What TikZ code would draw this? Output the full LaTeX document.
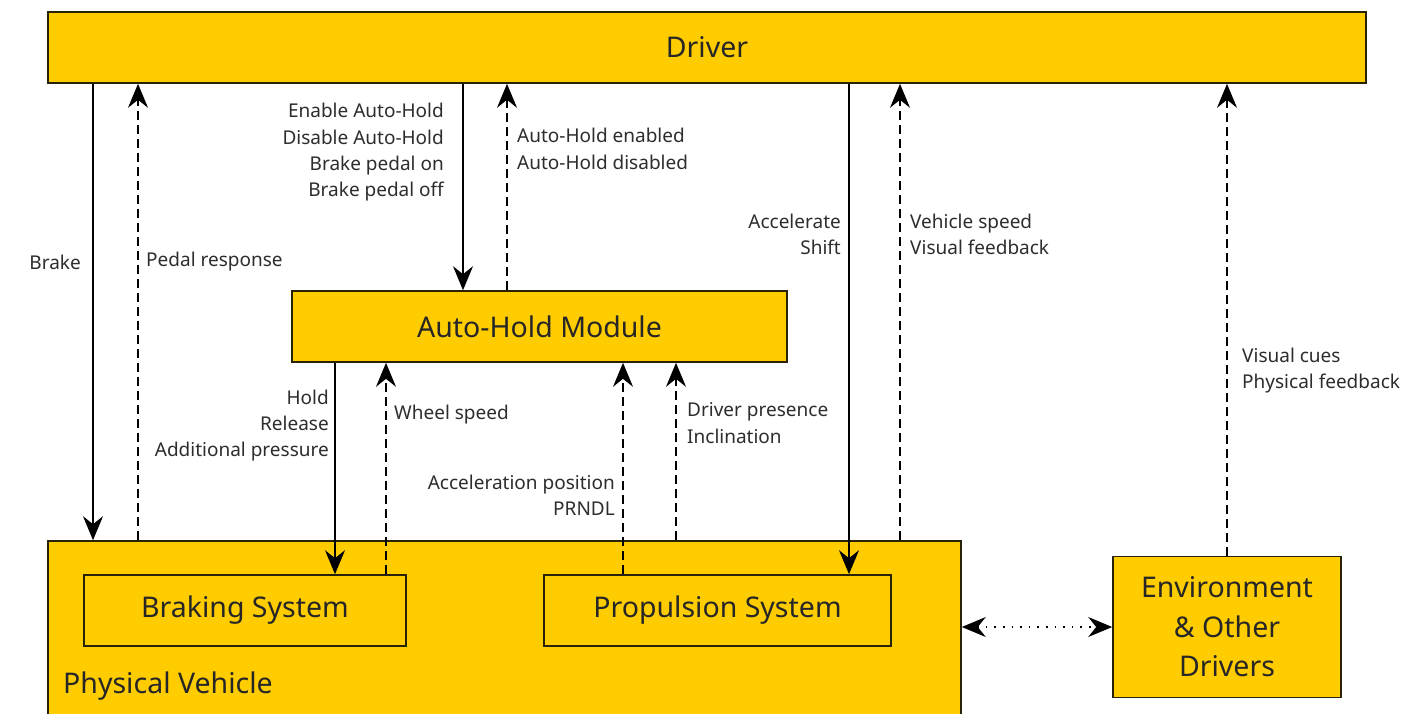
\documentclass[tikz,border=0pt]{standalone}
\usepackage{fontspec}
\setmainfont{Noto Sans}
\usetikzlibrary{arrows.meta}
\definecolor{boxfill}{RGB}{255,204,0}
\definecolor{boxline}{RGB}{40,34,10}
\definecolor{labtext}{RGB}{45,45,45}
\begin{document}
\begin{tikzpicture}[x=1pt,y=-1pt,
  box/.style={draw=boxline,line width=1.6pt,fill=boxfill,rectangle,inner sep=0pt,
    font=\fontsize{28.5}{36}\selectfont,text=black!85},
  lab/.style={inner sep=0pt,font=\fontsize{19}{26.3}\selectfont,text=labtext},
  tip/.style={-{Stealth[length=24pt,width=20pt,inset=8pt]}},
  sa/.style={tip,line width=1.6pt,draw=black},
  da/.style={tip,line width=1.6pt,draw=black,dash pattern=on 9pt off 5pt},
  dd/.style={{Stealth[length=24pt,width=20pt,inset=8pt]}-{Stealth[length=24pt,width=20pt,inset=8pt]},line width=1.6pt,dash pattern=on 1.6pt off 7pt}
]
\useasboundingbox (0,0) rectangle (1403,713);
\fill[white] (0,0) rectangle (1403,713);
\clip (0,0) rectangle (1403,713);

% boxes
\node[box,minimum width=1318pt,minimum height=71pt] (driver) at (707,47.5) {Driver};
\node[box,minimum width=913pt,minimum height=180pt] (pv) at (504.5,631) {};
\node[inner sep=0pt,anchor=west,font=\fontsize{28.5}{36}\selectfont,text=black!85] (pvlab) at (63,686) {Physical Vehicle};
\node[box,minimum width=322pt,minimum height=71pt] (brk) at (245,610.5) {Braking System};
\node[box,minimum width=347pt,minimum height=71pt] (prop) at (717.5,610.5) {Propulsion System};
\node[box,minimum width=495pt,minimum height=71pt] (ahm) at (539.5,326.5) {Auto-Hold Module};
\node[box,minimum width=228pt,minimum height=141pt,align=center,font=\fontsize{28.5}{39.5}\selectfont] (env) at (1227,627) {Environment\\\& Other\\Drivers};

% x positions of connectors
\coordinate (xBrake) at (93,0);
\coordinate (xPedal) at (138,0);
\coordinate (xEnable) at (463,0);
\coordinate (xEnabled) at (507,0);
\coordinate (xAccel) at (849,0);
\coordinate (xVspeed) at (900,0);
\coordinate (xVcues) at (1227,0);
\coordinate (xHold) at (335,0);
\coordinate (xWheel) at (386,0);
\coordinate (xAccPos) at (623,0);
\coordinate (xPres) at (676,0);

% connectors
\draw[sa] (driver.south -| xBrake) -- (pv.north -| xBrake);
\draw[da] (pv.north -| xPedal) -- (driver.south -| xPedal);
\draw[sa] (driver.south -| xEnable) -- (ahm.north -| xEnable);
\draw[da] (ahm.north -| xEnabled) -- (driver.south -| xEnabled);
\draw[sa] (driver.south -| xAccel) -- (prop.north -| xAccel);
\draw[da] (pv.north -| xVspeed) -- (driver.south -| xVspeed);
\draw[da] (env.north -| xVcues) -- (driver.south -| xVcues);
\draw[sa] (ahm.south -| xHold) -- (brk.north -| xHold);
\draw[da] (brk.north -| xWheel) -- (ahm.south -| xWheel);
\draw[da] (prop.north -| xAccPos) -- (ahm.south -| xAccPos);
\draw[da] (pv.north -| xPres) -- (ahm.south -| xPres);
\draw[dd] (pv.east |- env.west) -- (env.west);

% labels
\node[lab,anchor=east,align=right] (lBrake) at (81,262) {Brake};
\node[lab,anchor=west,align=left] (lPedal) at (146,262) {Pedal response};
\node[lab,anchor=east,align=right] (lEnable) at (444,152.5) {Enable Auto-Hold\\Disable Auto-Hold\\Brake pedal on\\Brake pedal off};
\node[lab,anchor=west,align=left] (lEnabled) at (517,149) {Auto-Hold enabled\\Auto-Hold disabled};
\node[lab,anchor=east,align=right] (lAccel) at (841,234.5) {Accelerate\\Shift};
\node[lab,anchor=west,align=left] (lVspeed) at (910,234.5) {Vehicle speed\\Visual feedback};
\node[lab,anchor=west,align=left] (lVcues) at (1242,370.5) {Visual cues\\Physical feedback};
\node[lab,anchor=east,align=right] (lHold) at (329,425.5) {Hold\\Release\\Additional pressure};
\node[lab,anchor=west,align=left] (lWheel) at (394,415) {Wheel speed};
\node[lab,anchor=east,align=right] (lAccPos) at (615,495.5) {Acceleration position\\PRNDL};
\node[lab,anchor=west,align=left] (lPres) at (687,423) {Driver presence\\Inclination};
\end{tikzpicture}
\end{document}
